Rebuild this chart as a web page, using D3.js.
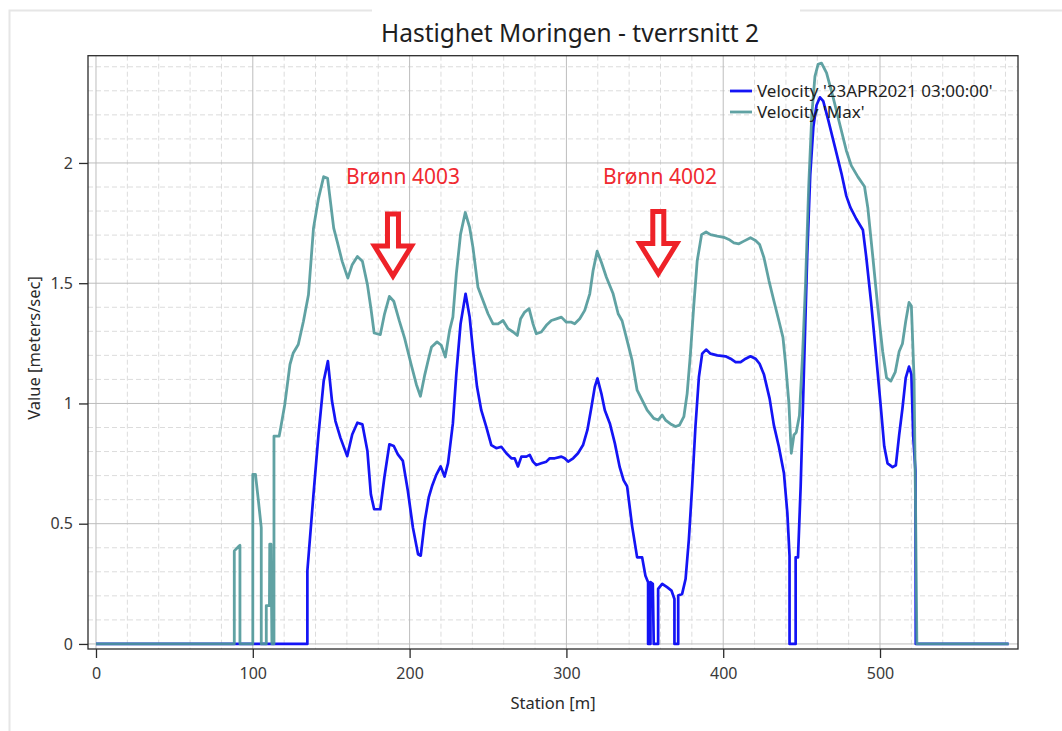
<!DOCTYPE html>
<html>
<head>
<meta charset="utf-8">
<script src="https://cdn.jsdelivr.net/npm/d3@7"></script>
<style>
body { margin: 0; background: #fff; }
text { font-family: "Noto Sans", sans-serif; }
</style>
</head>
<body>
<svg id="chart" width="1062" height="731"></svg>
<script>
// Velocity 'Max' (station m, value m/s)
var maxStation = [0, 88.2, 88.2, 91.4, 91.8, 91.8, 100, 100, 101.7, 103.5, 105.4, 105.4, 108.6, 108.6, 110.6, 110.8, 111.6, 112.2, 113.5, 113.5,
  116.8, 117.8, 120.4, 123.7, 125.8, 129, 132.3, 135.5, 138.7, 141.9, 145.2, 147.7, 151.6, 153.8, 157, 160.6, 163.4, 166.7, 169.9, 173.1,
  175.3, 177.4, 181.3, 183.9, 187.1, 189.9, 193.5, 196.8, 201, 204.3, 206.9, 209.7, 212.2, 214, 217.5, 220.2, 222.8, 225.5, 227.6, 229.8,
  232.5, 235.5, 238.3, 240.4, 243.6, 246.8, 250, 253.2, 256.4, 259.6, 262.8, 266, 268.7, 270.8, 273.4, 276.2, 278.7, 280.8, 284, 287.2,
  290.4, 293.6, 296.8, 300, 303.2, 305.3, 308.5, 311.7, 314.9, 317, 319.6, 322.3, 325.5, 329.8, 333, 335.5, 338.7, 341.9, 345.1, 348.3,
  351.5, 355.7, 358.5, 361.1, 363.2, 366.4, 369.6, 372.1, 374.9, 377, 379.1, 381.3, 383.4, 386.2, 389.1, 391.9, 396.2, 400.4, 403.6, 406.8,
  410, 413.2, 417.4, 420.6, 423.2, 426, 429.2, 432.3, 435.5, 438.1, 439.8, 441.9, 443.4, 445.1, 446.6, 448.6, 450.6, 452.5, 454.5, 456.5,
  458.5, 460.5, 462.7, 465.9, 470.1, 474.3, 478.5, 481.7, 485.9, 490.1, 492.2, 495.4, 498.5, 501.7, 504.2, 506.9, 509.7, 512.2, 514.3, 516.4,
  518.5, 520, 521.7, 522.7, 523.5, 582];
var maxValue = [0, 0, 0.387, 0.408, 0.41, 0, 0, 0.705, 0.705, 0.6, 0.484, 0, 0, 0.159, 0.159, 0.415, 0.415, 0, 0, 0.864,
  0.864, 0.899, 0.996, 1.162, 1.21, 1.245, 1.342, 1.452, 1.729, 1.853, 1.943, 1.936, 1.729, 1.674, 1.591, 1.521, 1.577, 1.611, 1.591, 1.494,
  1.397, 1.293, 1.286, 1.369, 1.445, 1.425, 1.342, 1.272, 1.162, 1.079, 1.03, 1.12, 1.189, 1.235, 1.256, 1.242, 1.193, 1.304, 1.359, 1.539,
  1.704, 1.794, 1.732, 1.649, 1.483, 1.428, 1.373, 1.331, 1.331, 1.345, 1.311, 1.297, 1.283, 1.352, 1.38, 1.394, 1.331, 1.29, 1.297, 1.325,
  1.345, 1.352, 1.359, 1.338, 1.338, 1.331, 1.352, 1.387, 1.456, 1.552, 1.633, 1.587, 1.525, 1.456, 1.373, 1.344, 1.262, 1.179, 1.055, 1.014,
  0.972, 0.938, 0.931, 0.952, 0.931, 0.915, 0.904, 0.91, 0.945, 1.041, 1.207, 1.413, 1.592, 1.702, 1.713, 1.702, 1.696, 1.691, 1.682, 1.668,
  1.664, 1.675, 1.689, 1.678, 1.661, 1.606, 1.51, 1.427, 1.344, 1.275, 1.165, 1.0, 0.793, 0.869, 0.88, 0.95, 1.2, 1.5, 1.9, 2.2,
  2.36, 2.41, 2.415, 2.375, 2.273, 2.162, 2.052, 1.989, 1.942, 1.902, 1.815, 1.61, 1.405, 1.216, 1.106, 1.093, 1.13, 1.216, 1.248, 1.342,
  1.42, 1.405, 1.106, 0.554, 0, 0];

// Velocity '23APR2021 03:00:00'
var curStation = [0, 134.8, 134.8, 138.7, 141.9, 145.2, 147.9, 150.5, 152.7, 155.9, 160.2, 163.4, 166.7, 169.9, 173.1, 175.3, 177.4, 181.3, 183.9, 187.1,
  189.9, 192.5, 195.7, 198.9, 202.1, 205.4, 207.1, 209.7, 212.2, 214.5, 217, 219.8, 222.3, 224.5, 227.6, 229.8, 232.5, 235.7, 238.3, 240.4,
  243, 245.7, 248.9, 252.1, 255.3, 258.5, 261.7, 264.9, 267, 269.1, 271.3, 274.5, 276.6, 278.7, 280.8, 284, 287.2, 289.4, 292.6, 296.8,
  298.9, 301.1, 304.3, 307.4, 310.6, 313.4, 316, 318.1, 319.8, 322.3, 324.5, 327.7, 330.9, 334, 336.5, 338.7, 341.9, 345.1, 348.3, 350.4,
  352.1, 352.1, 353.6, 353.6, 355.1, 355.7, 358.5, 358.5, 361.1, 364.2, 367, 368.9, 368.9, 371.3, 371.3, 373.8, 376, 378.1, 380.2, 382.3,
  384.5, 386.6, 389.1, 391.9, 396.2, 401.5, 404.7, 407.9, 411.1, 414.3, 417.4, 420.6, 423.2, 426, 429.6, 432.3, 435.5, 438.7, 440.9, 442.3,
  442.3, 446.2, 446.2, 447.7, 449.4, 451.5, 453.6, 455.5, 457.5, 459.5, 461.7, 463.8, 467, 471.2, 475.4, 478.5, 481.1, 484.8, 489.1, 491.2,
  494.3, 497.5, 500.6, 502.7, 504.8, 508, 510.1, 512.2, 514.3, 516.4, 518.5, 520, 521.2, 522.6, 522.8, 582];
var curValue = [0, 0, 0.304, 0.622, 0.871, 1.093, 1.176, 1.01, 0.927, 0.857, 0.781, 0.871, 0.92, 0.913, 0.802, 0.622, 0.56, 0.56, 0.692, 0.83,
  0.823, 0.788, 0.761, 0.636, 0.484, 0.373, 0.367, 0.512, 0.609, 0.66, 0.703, 0.738, 0.696, 0.751, 0.917, 1.124, 1.331, 1.456, 1.359, 1.221,
  1.069, 0.972, 0.903, 0.827, 0.814, 0.82, 0.793, 0.772, 0.772, 0.738, 0.779, 0.779, 0.786, 0.758, 0.744, 0.751, 0.758, 0.772, 0.772, 0.779,
  0.772, 0.758, 0.772, 0.793, 0.827, 0.89, 0.986, 1.069, 1.104, 1.041, 0.972, 0.917, 0.834, 0.735, 0.68, 0.656, 0.49, 0.36, 0.36, 0.284,
  0.257, 0, 0, 0.257, 0.25, 0, 0, 0.229, 0.25, 0.236, 0.222, 0.187, 0, 0, 0.201, 0.208, 0.27, 0.435, 0.656, 0.904,
  1.11, 1.207, 1.224, 1.207, 1.2, 1.196, 1.186, 1.172, 1.172, 1.186, 1.196, 1.186, 1.165, 1.12, 1.02, 0.91, 0.82, 0.711, 0.545, 0.366,
  0, 0, 0.36, 0.36, 0.656, 1.138, 1.62, 1.95, 2.15, 2.24, 2.273, 2.257, 2.178, 2.068, 1.957, 1.863, 1.815, 1.768, 1.721, 1.61,
  1.421, 1.2, 0.979, 0.822, 0.751, 0.735, 0.743, 0.868, 0.979, 1.106, 1.153, 1.121, 0.86, 0.72, 0, 0];

var xMajorTicks = [0, 100, 200, 300, 400, 500];
var yMajorTicks = [0, 0.5, 1, 1.5, 2];
var yTickLabels = ["0", "0.5", "1", "1.5", "2"];
var seriesNames = ["Velocity '23APR2021 03:00:00'", "Velocity 'Max'"];

// well markers (station of arrow, value at arrow tip, station of the label)
var wellNames = ["Brønn 4003", "Brønn 4002"];
var wellStation = [189.4, 358.6];
var wellTipValue = [1.53, 1.54];
var wellLabelStation = [195.8, 359.7];

var svg = d3.select("#chart");
// note: "top" is taken by window.top, so use plot* names
var plotLeft = 88, plotRight = 1018, plotTop = 55.7, plotBottom = 649;

var x = d3.scaleLinear().domain([-5.1, 588]).range([plotLeft, plotRight]);
var y = d3.scaleLinear().domain([-0.021, 2.446]).range([plotBottom, plotTop]);

var xMinor = d3.range(0, 581, 20).filter(function(d){ return d % 100 != 0; });
var yMinor = d3.range(1, 25).map(function(d){ return d / 10; }).filter(function(d){ return Math.round(d * 10) % 5 != 0; });
var xAllTicks = d3.range(0, 581, 20);
var yAllTicks = d3.range(0, 25).map(function(d){ return d / 10; });

// outer panel border (gap for the title)
svg.append("path")
  .attr("d", "M372,10.5 H9.5 V731 M800,10.5 H1062")
  .attr("fill", "none").attr("stroke", "#e6e6e6").attr("stroke-width", 2);

// grid
var grid = svg.append("g");
grid.selectAll(".vminor").data(xMinor).enter().append("line")
  .attr("x1", d => x(d)).attr("x2", d => x(d)).attr("y1", plotTop).attr("y2", plotBottom)
  .attr("stroke", "#dcdcdc").attr("stroke-dasharray", "5,3");
grid.selectAll(".hminor").data(yMinor).enter().append("line")
  .attr("y1", d => y(d)).attr("y2", d => y(d)).attr("x1", plotLeft).attr("x2", plotRight)
  .attr("stroke", "#dcdcdc").attr("stroke-dasharray", "5,3");
grid.selectAll(".vmajor").data(xMajorTicks).enter().append("line")
  .attr("x1", d => x(d)).attr("x2", d => x(d)).attr("y1", plotTop).attr("y2", plotBottom)
  .attr("stroke", "#bdbdbd");
grid.selectAll(".hmajor").data(yMajorTicks).enter().append("line")
  .attr("y1", d => y(d)).attr("y2", d => y(d)).attr("x1", plotLeft).attr("x2", plotRight)
  .attr("stroke", "#bdbdbd");

// lines
svg.append("clipPath").attr("id", "plotclip").append("rect")
  .attr("x", plotLeft).attr("y", plotTop).attr("width", plotRight - plotLeft).attr("height", plotBottom - plotTop);

var line = d3.line().x(d => x(d[0])).y(d => y(d[1]));
var curData = d3.zip(curStation, curValue);
var maxData = d3.zip(maxStation, maxValue);

svg.append("path").datum(curData).attr("d", line).attr("clip-path", "url(#plotclip)")
  .attr("fill", "none").attr("stroke", "#1414f5").attr("stroke-width", 2.7).attr("stroke-linejoin", "round");
svg.append("path").datum(maxData).attr("d", line).attr("clip-path", "url(#plotclip)")
  .attr("fill", "none").attr("stroke", "#4f9899").attr("stroke-opacity", 0.9).attr("stroke-width", 2.8).attr("stroke-linejoin", "round");

// frame
svg.append("rect").attr("x", plotLeft).attr("y", plotTop).attr("width", plotRight - plotLeft).attr("height", plotBottom - plotTop)
  .attr("fill", "none").attr("stroke", "#2b2b2b").attr("stroke-width", 1.3);

// axes
var xAxis = svg.append("g").attr("transform", "translate(0," + plotBottom + ")");
xAxis.call(d3.axisBottom(x).tickValues(xAllTicks).tickSize(6).tickFormat(""));
xAxis.call(d3.axisBottom(x).tickValues(xMajorTicks).tickSize(9).tickPadding(10).tickFormat(d3.format("d")));
xAxis.selectAll(".domain").remove();

var yAxis = svg.append("g").attr("transform", "translate(" + plotLeft + ",0)");
yAxis.call(d3.axisLeft(y).tickValues(yAllTicks).tickSize(6).tickFormat(""));
yAxis.call(d3.axisLeft(y).tickValues(yMajorTicks).tickSize(9).tickPadding(6).tickFormat(function(d, i){ return yTickLabels[i]; }));
yAxis.selectAll(".domain").remove();

svg.selectAll(".tick line").attr("stroke", "#2b2b2b").attr("stroke-width", 1.3);
svg.selectAll(".tick text").attr("fill", "#3a3a3a").style("font-size", "16px").style("font-family", "'Noto Sans', sans-serif");

// titles
svg.append("text").attr("x", 570).attr("y", 42).attr("text-anchor", "middle")
  .style("font-size", "24.5px").attr("fill", "#1e1e1e").text("Hastighet Moringen - tverrsnitt 2");
svg.append("text").attr("x", (plotLeft + plotRight) / 2).attr("y", 709).attr("text-anchor", "middle")
  .style("font-size", "16.5px").attr("fill", "#2a2a2a").text("Station [m]");
svg.append("text").attr("transform", "translate(40,348) rotate(-90)").attr("text-anchor", "middle")
  .style("font-size", "16.5px").attr("fill", "#2a2a2a").text("Value [meters/sec]");

// legend
var legendColors = ["#1414f5", "#4f9899"];
var legend = svg.append("g").attr("transform", "translate(730,91)");
seriesNames.forEach(function(name, i){
  legend.append("line").attr("x1", 0).attr("x2", 22).attr("y1", i * 21).attr("y2", i * 21)
    .attr("stroke", legendColors[i]).attr("stroke-opacity", i ? 0.9 : 1).attr("stroke-width", 2.8);
  legend.append("text").attr("x", 27).attr("y", i * 21 + 6)
    .style("font-size", "17px").attr("fill", "#1e1e1e").text(name);
});

// well annotations: label + hollow down arrow
wellNames.forEach(function(name, i){
  var cx = x(wellStation[i]);
  var tip = y(wellTipValue[i]);
  svg.append("text").attr("x", x(wellLabelStation[i])).attr("y", 184).attr("text-anchor", "middle")
    .style("font-size", "21px").attr("fill", "#f02a30").text(name);
  var pts = [[cx - 5.5, tip - 62], [cx + 5.5, tip - 62], [cx + 5.5, tip - 30], [cx + 18.5, tip - 30],
             [cx, tip], [cx - 18.5, tip - 30], [cx - 5.5, tip - 30]];
  svg.append("polygon").attr("points", pts.map(p => p.join(",")).join(" "))
    .attr("fill", "#fff").attr("stroke", "#ee2228").attr("stroke-width", 5).attr("stroke-linejoin", "miter");
});
</script>
</body>
</html>
